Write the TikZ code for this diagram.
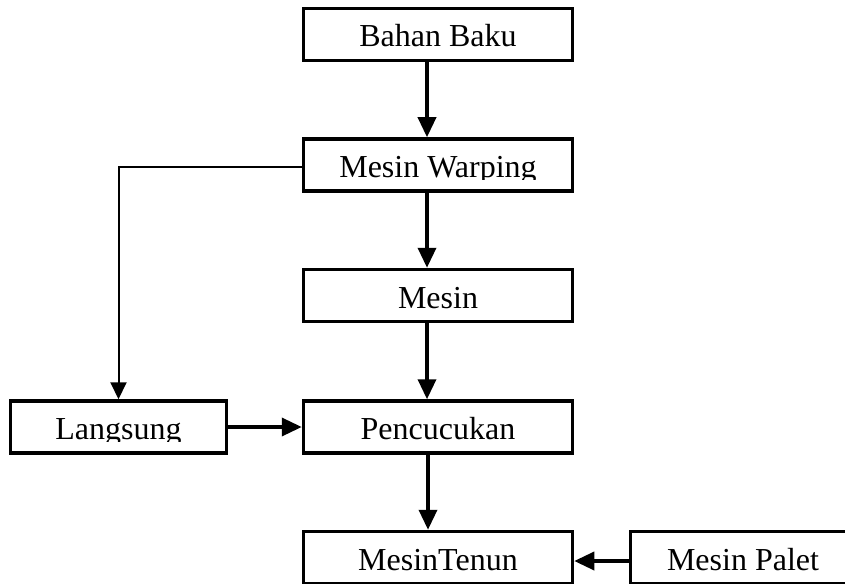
\documentclass[tikz,border=0pt]{standalone}
\usepackage{fontspec}
\setmainfont{Liberation Serif}
\usetikzlibrary{arrows.meta}

\begin{document}
\begin{tikzpicture}[x=1pt,y=1pt,
    stage/.style={draw,line width=3.5pt,minimum width=269,minimum height=52,
      inner sep=0pt,text height=25pt,text depth=0pt,
      font=\fontsize{32}{38}\selectfont},
    flow/.style={line width=3.5pt,-{Triangle[length=20pt,width=18pt]}},
    side/.style={line width=2pt,-{Triangle[length=17pt,width=16pt]}},
    mask/.style={fill=white}]

  % --- the sheet, cut at the bottom as the page shows it ---
  \path[use as bounding box,clip] (0,0) rectangle (845,-583);

  % --- the main line of stages ---
  \node[stage] (bahan) at (438, -34.5) {Bahan Baku};
  \node[stage] (warp)  at (438,-165)   {Mesin Warping};
  \node[stage] (mesin) at (438,-295.5) {Mesin};
  \node[stage] (pencu) at (438,-427)   {Pencucukan};
  \node[stage] (tenun) at (438,-557.5) {MesinTenun};

  % --- the side stages ---
  \node[stage,minimum width=216] (lang)  at (118.5,-427)   {Langsung};
  \node[stage,minimum width=225] (palet) at (743,  -557.5) {Mesin Palet};

  % --- text boxes that cut the descenders off ---
  \foreach \b in {warp,lang}
    \fill[mask] ([shift={(3.5,3.5)}]\b.south west)
           rectangle ([shift={(-3.5,12.5)}]\b.south east);

  % --- flow down the main line ---
  \draw[flow] ([xshift=-11pt]bahan.south) -- ([xshift=-11pt]warp.north);
  \draw[flow] ([xshift=-11pt]warp.south)  -- ([xshift=-11pt]mesin.north);
  \draw[flow] ([xshift=-11pt]mesin.south) -- ([xshift=-11pt]pencu.north);
  \draw[flow] ([xshift=-10pt]pencu.south) -- ([xshift=-10pt]tenun.north);

  % --- the side feeds ---
  \draw[side] ([yshift=-2pt]warp.west) -| (lang.north);
  \draw[flow] (lang.east) -- (pencu.west);
  \draw[flow] ([yshift=-3.5pt]palet.west) -- ([yshift=-3.5pt]tenun.east);
\end{tikzpicture}
\end{document}
